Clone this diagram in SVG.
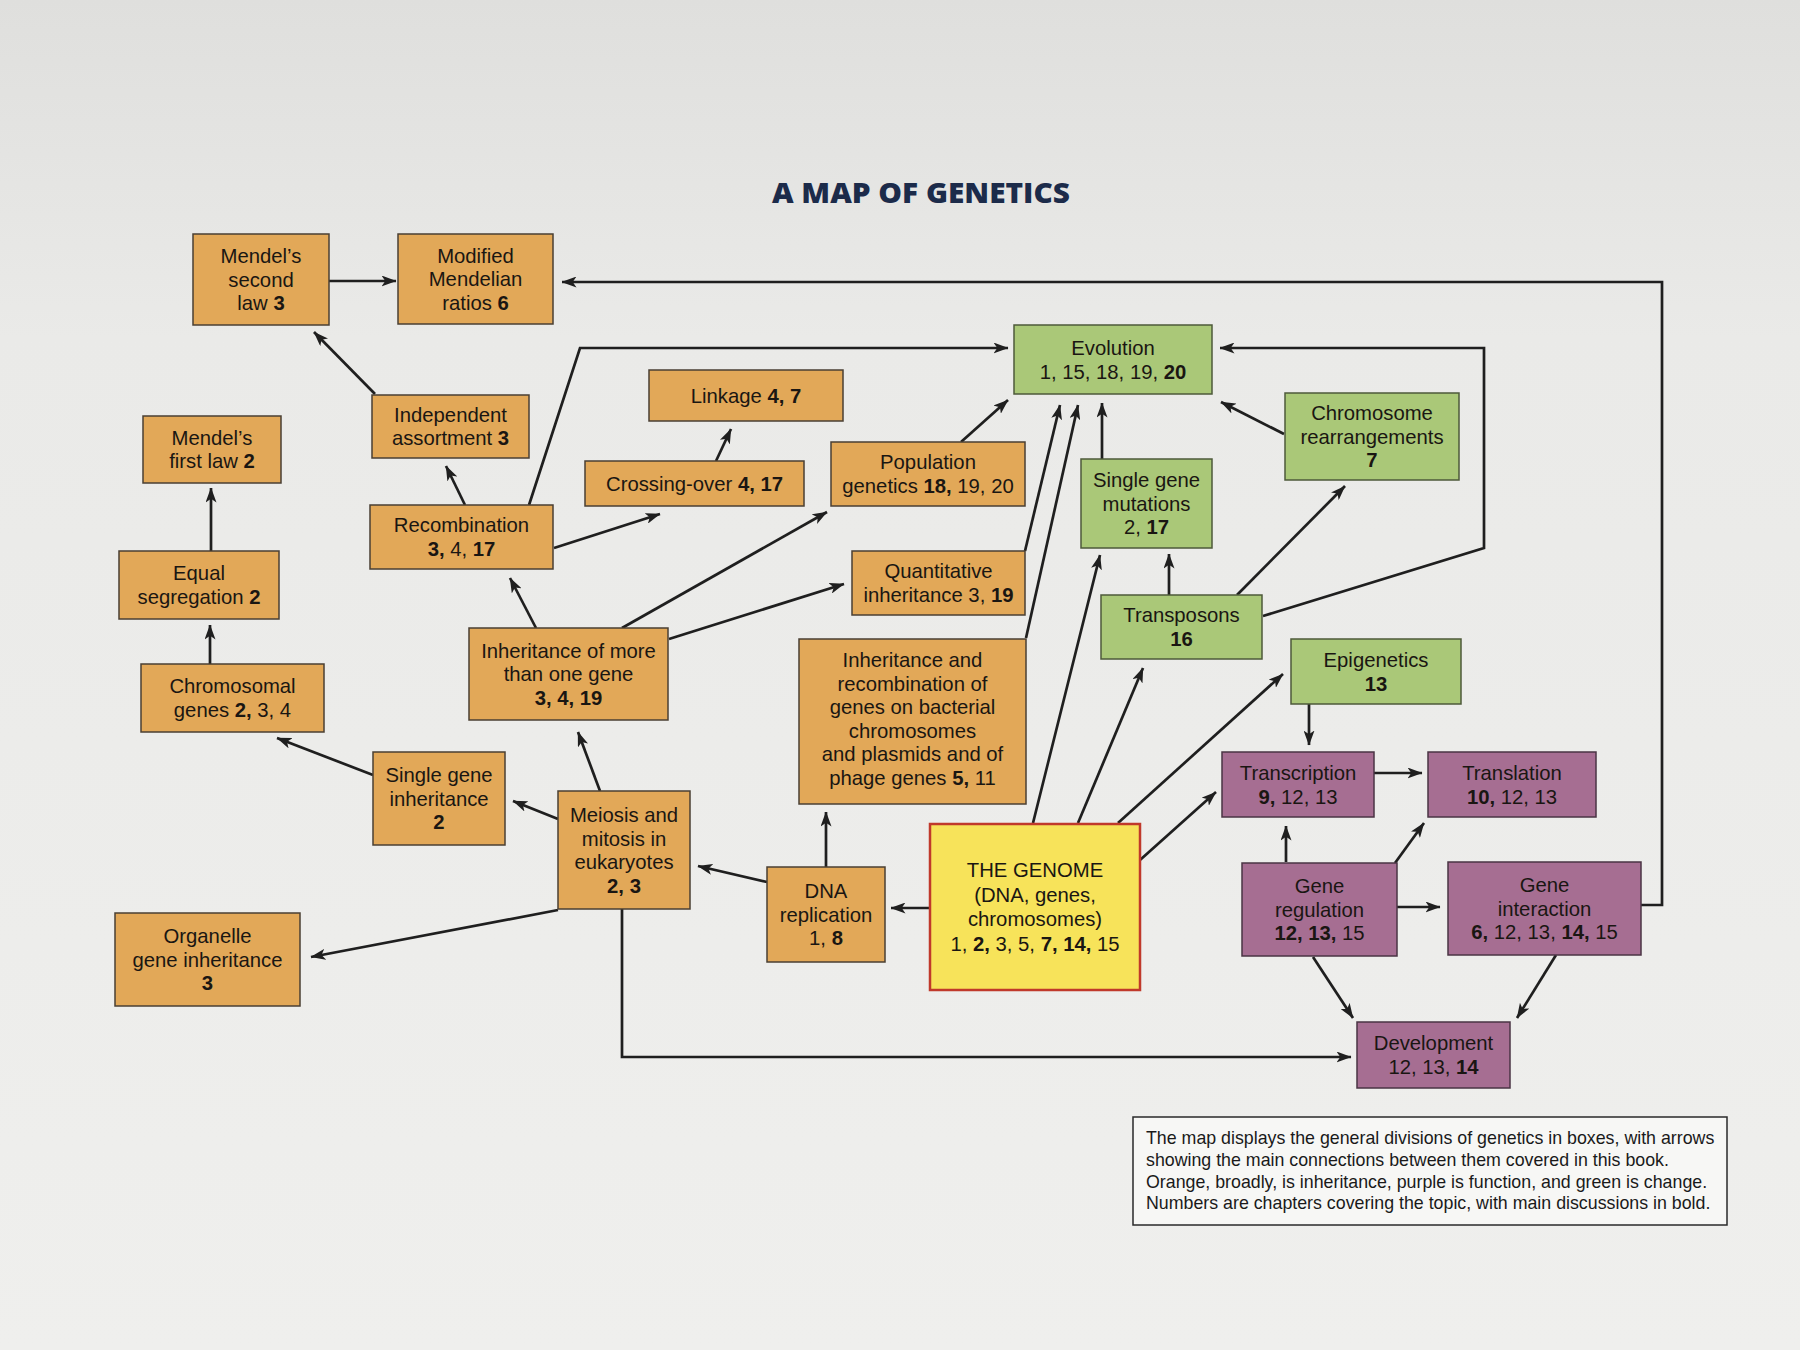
<svg xmlns="http://www.w3.org/2000/svg" width="1800" height="1350" viewBox="0 0 1800 1350">
<defs>
<linearGradient id="bg" x1="0" y1="0" x2="0" y2="1">
<stop offset="0" stop-color="#dfdfdd"/>
<stop offset="0.25" stop-color="#eaeae8"/>
<stop offset="1" stop-color="#efefed"/>
</linearGradient>
<marker id="arr" viewBox="0 0 15 11" refX="14.5" refY="5.5" markerWidth="15" markerHeight="11" markerUnits="userSpaceOnUse" orient="auto">
<path d="M0,0 L15,5.5 L0,11 L3.8,5.5 z" fill="#1f1f1f"/>
</marker>
<style>
.box{stroke:#4a3f33;stroke-width:1.5}
.o{fill:#e2a858}
.g{fill:#aac878;stroke:#4d5a3a}
.p{fill:#a66e92;stroke:#4a3444}
.y{fill:#f7e35a;stroke:#c0392b;stroke-width:2.5}
.t{font-family:"Liberation Sans",Arial,Helvetica,sans-serif;font-size:20.3px;fill:#1a1612;text-anchor:middle}
.b{font-weight:bold}
.c{fill:none;stroke:#1f1f1f;stroke-width:2.7;marker-end:url(#arr)}
.cap{font-family:"Liberation Sans",Arial,Helvetica,sans-serif;font-size:17.8px;fill:#1a1a1a}
</style>
</defs>
<rect x="0" y="0" width="1800" height="1350" fill="url(#bg)"/>
<text x="921" y="203" font-family="'Open Sans','Liberation Sans',sans-serif" font-weight="800" font-size="29" fill="#1c2b4a" text-anchor="middle" textLength="298" lengthAdjust="spacingAndGlyphs">A MAP OF GENETICS</text>

<g id="connectors">
<path class="c" d="M329,281 L396,281"/>
<path class="c" d="M1641,905 L1662,905 L1662,282 L562,282"/>
<path class="c" d="M375,394 L314,332"/>
<path class="c" d="M465,505 L446,466"/>
<path class="c" d="M529,505 L580,348 L1008,348"/>
<path class="c" d="M554,548 L660,514"/>
<path class="c" d="M716,461 L731,429"/>
<path class="c" d="M961,442 L1008,400"/>
<path class="c" d="M1025,551 L1060,405"/>
<path class="c" d="M1026,638 L1078,405"/>
<path class="c" d="M1102,459 L1102,403"/>
<path class="c" d="M1284,434 L1221,402"/>
<path class="c" d="M1263,616 L1484,548 L1484,348 L1220,348"/>
<path class="c" d="M1169,595 L1169,554"/>
<path class="c" d="M1237,595 L1345,486"/>
<path class="c" d="M211,551 L211,488"/>
<path class="c" d="M210,664 L210,625"/>
<path class="c" d="M536,628 L510,578"/>
<path class="c" d="M622,628 L827,512"/>
<path class="c" d="M669,639 L844,584"/>
<path class="c" d="M373,775 L277,738"/>
<path class="c" d="M558,819 L513,801"/>
<path class="c" d="M600,791 L578,732"/>
<path class="c" d="M558,910 L311,957"/>
<path class="c" d="M622,909 L622,1057 L1351,1057"/>
<path class="c" d="M767,882 L698,866"/>
<path class="c" d="M826,867 L826,812"/>
<path class="c" d="M930,908 L891,908"/>
<path class="c" d="M1033,823 L1100,555"/>
<path class="c" d="M1078,823 L1143,668"/>
<path class="c" d="M1118,823 L1283,674"/>
<path class="c" d="M1140,860 L1216,792"/>
<path class="c" d="M1309,704 L1309,745"/>
<path class="c" d="M1374,773 L1422,773"/>
<path class="c" d="M1286,862 L1286,826"/>
<path class="c" d="M1395,863 L1424,823"/>
<path class="c" d="M1397,907 L1440,907"/>
<path class="c" d="M1313,957 L1353,1018"/>
<path class="c" d="M1556,955 L1517,1018"/>
</g>

<g id="mendel2"><rect class="box o" x="193" y="234" width="136" height="91"/>
<text class="t"><tspan x="261" y="263">Mendel’s</tspan><tspan x="261" y="286.5">second</tspan><tspan x="261" y="310">law <tspan class="b">3</tspan></tspan></text></g>

<g id="modified"><rect class="box o" x="398" y="234" width="155" height="90"/>
<text class="t"><tspan x="475.5" y="262.5">Modified</tspan><tspan x="475.5" y="286">Mendelian</tspan><tspan x="475.5" y="309.5">ratios <tspan class="b">6</tspan></tspan></text></g>

<g id="mendel1"><rect class="box o" x="143" y="416" width="138" height="67"/>
<text class="t"><tspan x="212" y="445">Mendel’s</tspan><tspan x="212" y="468">first law <tspan class="b">2</tspan></tspan></text></g>

<g id="independent"><rect class="box o" x="372" y="395" width="157" height="63"/>
<text class="t"><tspan x="450.5" y="422">Independent</tspan><tspan x="450.5" y="445">assortment <tspan class="b">3</tspan></tspan></text></g>

<g id="linkage"><rect class="box o" x="649" y="370" width="194" height="51"/>
<text class="t"><tspan x="746" y="402.5">Linkage <tspan class="b">4, 7</tspan></tspan></text></g>

<g id="crossing"><rect class="box o" x="585" y="461" width="219" height="45"/>
<text class="t"><tspan x="694.5" y="490.5">Crossing-over <tspan class="b">4, 17</tspan></tspan></text></g>

<g id="population"><rect class="box o" x="831" y="442" width="194" height="64"/>
<text class="t"><tspan x="928" y="469">Population</tspan><tspan x="928" y="492.5">genetics <tspan class="b">18,</tspan> 19, 20</tspan></text></g>

<g id="evolution"><rect class="box g" x="1014" y="325" width="198" height="69"/>
<text class="t"><tspan x="1113" y="355">Evolution</tspan><tspan x="1113" y="378.5">1, 15, 18, 19, <tspan class="b">20</tspan></tspan></text></g>

<g id="chromrearr"><rect class="box g" x="1285" y="393" width="174" height="87"/>
<text class="t"><tspan x="1372" y="420">Chromosome</tspan><tspan x="1372" y="443.5">rearrangements</tspan><tspan x="1372" y="467" class="b">7</tspan></text></g>

<g id="sgm"><rect class="box g" x="1081" y="459" width="131" height="89"/>
<text class="t"><tspan x="1146.5" y="487">Single gene</tspan><tspan x="1146.5" y="510.5">mutations</tspan><tspan x="1146.5" y="534">2, <tspan class="b">17</tspan></tspan></text></g>

<g id="recombination"><rect class="box o" x="370" y="505" width="183" height="64"/>
<text class="t"><tspan x="461.5" y="532">Recombination</tspan><tspan x="461.5" y="555.5"><tspan class="b">3,</tspan> 4, <tspan class="b">17</tspan></tspan></text></g>

<g id="equalseg"><rect class="box o" x="119" y="551" width="160" height="68"/>
<text class="t"><tspan x="199" y="580">Equal</tspan><tspan x="199" y="603.5">segregation <tspan class="b">2</tspan></tspan></text></g>

<g id="quantitative"><rect class="box o" x="852" y="551" width="173" height="64"/>
<text class="t"><tspan x="938.5" y="578">Quantitative</tspan><tspan x="938.5" y="601.5">inheritance 3, <tspan class="b">19</tspan></tspan></text></g>

<g id="transposons"><rect class="box g" x="1101" y="595" width="161" height="64"/>
<text class="t"><tspan x="1181.5" y="622">Transposons</tspan><tspan x="1181.5" y="645.5" class="b">16</tspan></text></g>

<g id="inhmore"><rect class="box o" x="469" y="628" width="199" height="92"/>
<text class="t"><tspan x="568.5" y="657.5">Inheritance of more</tspan><tspan x="568.5" y="681">than one gene</tspan><tspan x="568.5" y="704.5" class="b">3, 4, 19</tspan></text></g>

<g id="chromosomal"><rect class="box o" x="141" y="664" width="183" height="68"/>
<text class="t"><tspan x="232.5" y="693">Chromosomal</tspan><tspan x="232.5" y="716.5">genes <tspan class="b">2,</tspan> 3, 4</tspan></text></g>

<g id="bacterial"><rect class="box o" x="799" y="639" width="227" height="165"/>
<text class="t"><tspan x="912.5" y="667">Inheritance and</tspan><tspan x="912.5" y="690.6">recombination of</tspan><tspan x="912.5" y="714.2">genes on bacterial</tspan><tspan x="912.5" y="737.8">chromosomes</tspan><tspan x="912.5" y="761.4">and plasmids and of</tspan><tspan x="912.5" y="785">phage genes <tspan class="b">5,</tspan> 11</tspan></text></g>

<g id="epigenetics"><rect class="box g" x="1291" y="639" width="170" height="65"/>
<text class="t"><tspan x="1376" y="667">Epigenetics</tspan><tspan x="1376" y="690.5" class="b">13</tspan></text></g>

<g id="sgi"><rect class="box o" x="373" y="752" width="132" height="93"/>
<text class="t"><tspan x="439" y="782">Single gene</tspan><tspan x="439" y="805.5">inheritance</tspan><tspan x="439" y="829" class="b">2</tspan></text></g>

<g id="transcription"><rect class="box p" x="1222" y="752" width="152" height="65"/>
<text class="t"><tspan x="1298" y="780">Transcription</tspan><tspan x="1298" y="803.5"><tspan class="b">9,</tspan> 12, 13</tspan></text></g>

<g id="translation"><rect class="box p" x="1428" y="752" width="168" height="65"/>
<text class="t"><tspan x="1512" y="780">Translation</tspan><tspan x="1512" y="803.5"><tspan class="b">10,</tspan> 12, 13</tspan></text></g>

<g id="meiosis"><rect class="box o" x="558" y="791" width="132" height="118"/>
<text class="t"><tspan x="624" y="822">Meiosis and</tspan><tspan x="624" y="845.5">mitosis in</tspan><tspan x="624" y="869">eukaryotes</tspan><tspan x="624" y="892.5" class="b">2, 3</tspan></text></g>

<g id="dnarep"><rect class="box o" x="767" y="867" width="118" height="95"/>
<text class="t"><tspan x="826" y="898">DNA</tspan><tspan x="826" y="921.5">replication</tspan><tspan x="826" y="945">1, <tspan class="b">8</tspan></tspan></text></g>

<g id="genome"><rect class="box y" x="930" y="824" width="210" height="166"/>
<text class="t"><tspan x="1035" y="877">THE GENOME</tspan><tspan x="1035" y="901.5">(DNA, genes,</tspan><tspan x="1035" y="926">chromosomes)</tspan><tspan x="1035" y="950.5">1, <tspan class="b">2,</tspan> 3, 5, <tspan class="b">7, 14,</tspan> 15</tspan></text></g>

<g id="generegulation"><rect class="box p" x="1242" y="863" width="155" height="93"/>
<text class="t"><tspan x="1319.5" y="893">Gene</tspan><tspan x="1319.5" y="916.5">regulation</tspan><tspan x="1319.5" y="940"><tspan class="b">12, 13,</tspan> 15</tspan></text></g>

<g id="geneinteraction"><rect class="box p" x="1448" y="862" width="193" height="93"/>
<text class="t"><tspan x="1544.5" y="892">Gene</tspan><tspan x="1544.5" y="915.5">interaction</tspan><tspan x="1544.5" y="939"><tspan class="b">6,</tspan> 12, 13, <tspan class="b">14,</tspan> 15</tspan></text></g>

<g id="organelle"><rect class="box o" x="115" y="913" width="185" height="93"/>
<text class="t"><tspan x="207.5" y="943">Organelle</tspan><tspan x="207.5" y="966.5">gene inheritance</tspan><tspan x="207.5" y="990" class="b">3</tspan></text></g>

<g id="development"><rect class="box p" x="1357" y="1022" width="153" height="66"/>
<text class="t"><tspan x="1433.5" y="1050">Development</tspan><tspan x="1433.5" y="1073.5">12, 13, <tspan class="b">14</tspan></tspan></text></g>

<g id="caption"><rect x="1133" y="1117" width="594" height="108" fill="#f7f7f5" stroke="#2a2a2a" stroke-width="1.5"/>
<text class="cap"><tspan x="1146" y="1144">The map displays the general divisions of genetics in boxes, with arrows</tspan><tspan x="1146" y="1166">showing the main connections between them covered in this book.</tspan><tspan x="1146" y="1188">Orange, broadly, is inheritance, purple is function, and green is change.</tspan><tspan x="1146" y="1209">Numbers are chapters covering the topic, with main discussions in bold.</tspan></text></g>
</svg>
